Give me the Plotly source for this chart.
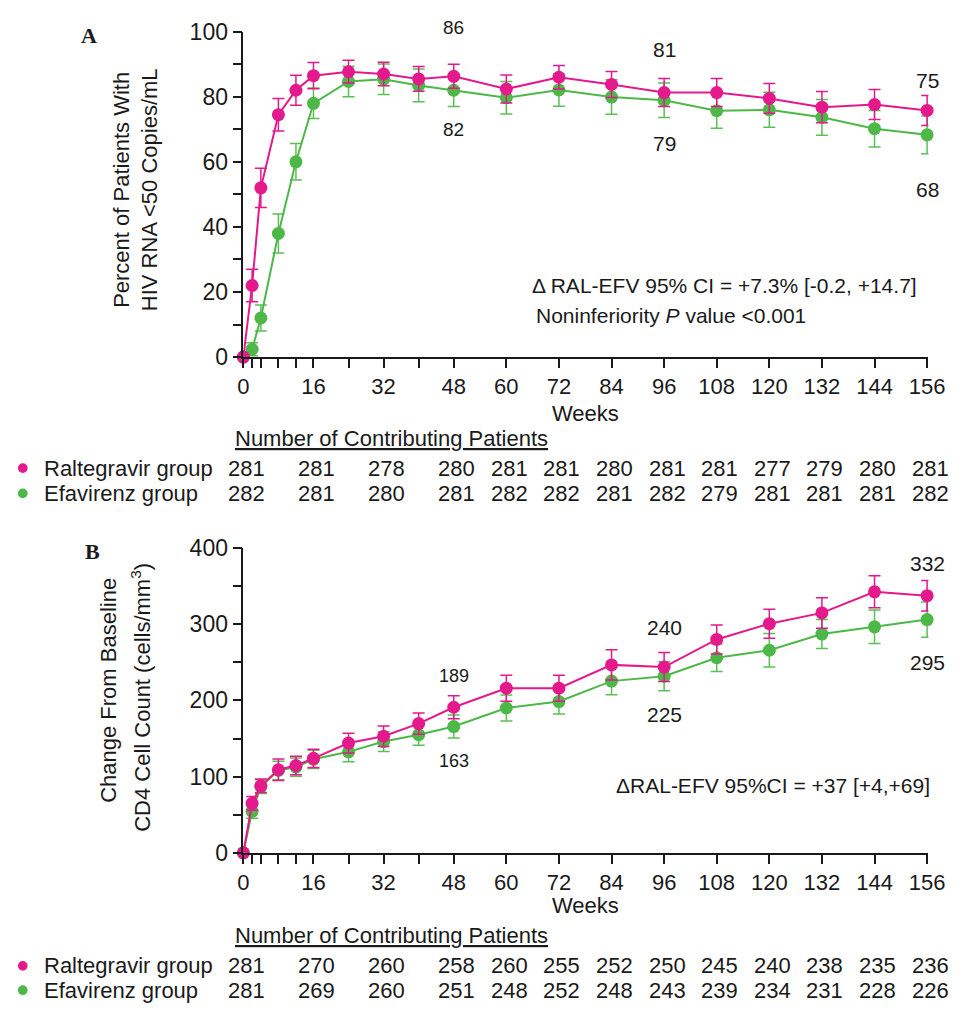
import plotly.graph_objects as go

# The page body has an 8px margin on every side; size the figure so the page never overflows.
OFF = 8
W, H = 971 - 2 * OFF, 1018 - 2 * OFF
FONT = "Liberation Sans, Arial, sans-serif"
SERIF = "Liberation Serif, Times New Roman, serif"
INK = "#1a1a1a"
MAG = "#E3198C"
GRN = "#4DB848"
GRN_ERR = "#5CBF56"

weeks = [0, 2, 4, 8, 12, 16, 24, 32, 40, 48, 60, 72, 84, 96, 108, 120, 132, 144, 156]

# Panel A: percent with HIV RNA < 50 copies/mL
a_ral = [0, 22, 52, 74.5, 82, 86.5, 87.7, 87, 85.5, 86.3, 82.4, 86, 83.8, 81.3, 81.3, 79.5, 76.8, 77.6, 75.8]
a_ral_err = [0, 5, 6, 5, 4.6, 4, 3.5, 3.6, 3.8, 3.7, 4.3, 3.6, 4, 4.3, 4.3, 4.6, 4.8, 4.6, 4.6]
a_efv = [0, 2.4, 12, 38, 60, 78, 84.7, 85.4, 83.5, 82, 79.7, 82.1, 79.9, 78.9, 75.7, 76, 73.7, 70.2, 68.3]
a_efv_err = [0, 2, 4, 6, 5.6, 4.7, 4.7, 4.7, 5, 5, 5, 5, 5.3, 5.3, 5.4, 5.4, 5.5, 5.6, 5.8]

# Panel B: change from baseline CD4 count
b_ral = [0, 65, 88, 109, 114.6, 124, 144, 153, 169.6, 191, 216, 216, 246.6, 243.7, 280, 300.7, 314.8, 342.5, 337.4]
b_ral_err = [0, 9, 9, 14, 12, 12, 13, 13.5, 14, 15, 17, 17, 20, 19, 19, 19, 20, 21, 20]
b_efv = [0, 54.5, 87, 108, 112.5, 122.7, 132.5, 146, 155, 165.7, 190, 198.5, 225.3, 231.7, 256, 265.8, 287, 296.5, 306]
b_efv_err = [0, 9, 9, 12, 12, 12, 13, 13, 14, 15, 17, 16.5, 18, 19, 18, 22, 19, 22, 23]

# axis ticks
x_major = [0, 16, 32, 48, 60, 72, 84, 96, 108, 120, 132, 144, 156]
x_minor = [2, 4, 8, 12, 24, 40]
a_major = [0, 20, 40, 60, 80, 100]
a_minor = [10, 30, 50, 70, 90]
b_major = [0, 100, 200, 300, 400]
b_minor = [50, 150, 250, 350]

# contributing patients tables
table_weeks = [0, 16, 32, 48, 60, 72, 84, 96, 108, 120, 132, 144, 156]
a_n_ral = [281, 281, 278, 280, 281, 281, 280, 281, 281, 277, 279, 280, 281]
a_n_efv = [282, 281, 280, 281, 282, 282, 281, 282, 279, 281, 281, 281, 282]
b_n_ral = [281, 270, 260, 258, 260, 255, 252, 250, 245, 240, 238, 235, 236]
b_n_efv = [281, 269, 260, 251, 248, 252, 248, 243, 239, 234, 231, 228, 226]

# value callouts: (index into weeks, series, text, pixel offset above(-)/below(+), size)
a_callouts = [(9, a_ral, "86", -49, 19), (9, a_efv, "82", 39, 19),
              (13, a_ral, "81", -43, 21), (13, a_efv, "79", 43, 21),
              (18, a_ral, "75", -30, 21), (18, a_efv, "68", 55, 21)]
b_callouts = [(9, b_ral, "189", -31, 18), (9, b_efv, "163", 34, 18),
              (13, b_ral, "240", -40, 21), (13, b_efv, "225", 38, 21),
              (18, b_ral, "332", -32, 21), (18, b_efv, "295", 43, 21)]


def px(x):
    return (x - OFF) / W


def py(y):
    return 1 - (y - OFF) / H


fig = go.Figure()


def add_series(xa, ya, vals, errs, color, ecolor, name):
    fig.add_trace(go.Scatter(
        x=weeks, y=vals, xaxis=xa, yaxis=ya, mode="lines+markers", name=name,
        line=dict(color=color, width=2),
        marker=dict(color=color, size=13),
        error_y=dict(type="data", array=errs, visible=True, color=ecolor,
                     thickness=1.5, width=6),
        cliponaxis=False, showlegend=False))


add_series("x", "y", a_efv, a_efv_err, GRN, GRN_ERR, "Efavirenz group")
add_series("x", "y", a_ral, a_ral_err, MAG, MAG, "Raltegravir group")
add_series("x2", "y2", b_efv, b_efv_err, GRN, GRN_ERR, "Efavirenz group")
add_series("x2", "y2", b_ral, b_ral_err, MAG, MAG, "Raltegravir group")

tick_style = dict(ticks="outside", ticklen=9, tickwidth=1.5, tickcolor=INK)
xaxis_common = dict(range=[0, 156.3], domain=[px(243), px(945)], showgrid=False, zeroline=False,
                    showline=True, linecolor=INK, linewidth=1.5,
                    tickvals=x_major, ticktext=[str(v) for v in x_major],
                    minor=dict(tickvals=x_minor, showgrid=False, **tick_style),
                    tickfont=dict(family=FONT, size=22, color=INK), **tick_style)
yaxis_common = dict(showgrid=False, zeroline=False, showline=True, linecolor=INK,
                    linewidth=1.5, tickfont=dict(family=FONT, size=23, color=INK), **tick_style)

fig.update_layout(
    width=W, height=H, margin=dict(l=0, r=0, t=0, b=0),
    paper_bgcolor="white", plot_bgcolor="white",
    xaxis=dict(anchor="y", **xaxis_common),
    yaxis=dict(anchor="x", range=[0, 100], domain=[py(353), py(19)],
               tickvals=a_major, ticktext=[str(v) for v in a_major],
               minor=dict(tickvals=a_minor, showgrid=False, **tick_style), **yaxis_common),
    xaxis2=dict(anchor="y2", **xaxis_common),
    yaxis2=dict(anchor="x2", range=[0, 400], domain=[py(862), py(549)],
                tickvals=b_major, ticktext=[str(v) for v in b_major],
                minor=dict(tickvals=b_minor, showgrid=False, **tick_style), **yaxis_common),
)

ann = []
shapes = []


def text(x, y, t, size=22, xanchor="center", angle=0, family=FONT):
    ann.append(dict(x=px(x), y=py(y), xref="paper", yref="paper", text=t, showarrow=False,
                    xanchor=xanchor, yanchor="middle", textangle=angle,
                    font=dict(family=family, size=size, color=INK)))


# panel letters
text(85, 23, "<b>A</b>", 22, family=SERIF)
text(88, 553, "<b>B</b>", 22, family=SERIF)

# y titles
text(118, 181, "Percent of Patients With", 22, angle=-90)
text(147, 181, "HIV RNA &lt;50 Copies/mL", 22, angle=-90)
text(105, 695, "Change From Baseline", 22, angle=-90)
text(138, 702, "CD4 Cell Count (cells/mm<sup>3</sup>)", 22, angle=-90)

# x titles
text(594, 411, "Weeks", 22)
text(594, 916, "Weeks", 22)

# statistics
text(537, 280, "\u0394 RAL-EFV 95% CI = +7.3% [-0.2, +14.7]", 21, xanchor="left")
text(541, 310, "Noninferiority <i>P</i> value &lt;0.001", 21, xanchor="left")
text(623, 793, "\u0394RAL-EFV 95%CI = +37 [+4,+69]", 21, xanchor="left")

# callouts
for xa, ya, cl in (("x", "y", a_callouts), ("x2", "y2", b_callouts)):
    for i, series, t, off, sz in cl:
        ann.append(dict(x=weeks[i], y=series[i], xref=xa, yref=ya, text=t, showarrow=False,
                        yshift=-off, xanchor="center", yanchor="middle",
                        font=dict(family=FONT, size=sz, color=INK)))

# tables
for xa, hdr_y, r1_y, r2_y, n1, n2 in (("x", 437, 467, 493, a_n_ral, a_n_efv),
                                       ("x2", 947, 978, 1003, b_n_ral, b_n_efv)):
    text(232, hdr_y, "<u>Number of Contributing Patients</u>", 22, xanchor="left")
    text(37, r1_y, "Raltegravir group", 22, xanchor="left")
    text(37, r2_y, "Efavirenz group", 22, xanchor="left")
    for cy, col in ((r1_y, MAG), (r2_y, GRN)):
        shapes.append(dict(type="circle", xref="paper", yref="paper",
                           x0=px(12), x1=px(22), y0=py(cy + 5), y1=py(cy - 5),
                           fillcolor=col, line=dict(width=0)))
    for wk, a, b in zip(table_weeks, n1, n2):
        for val, cy in ((a, r1_y), (b, r2_y)):
            ann.append(dict(x=wk, y=py(cy), xref=xa, yref="paper", text=str(val),
                            showarrow=False, xshift=3, xanchor="center", yanchor="middle",
                            font=dict(family=FONT, size=22, color=INK)))

fig.update_layout(annotations=ann, shapes=shapes)
fig.write_html("out.html")
